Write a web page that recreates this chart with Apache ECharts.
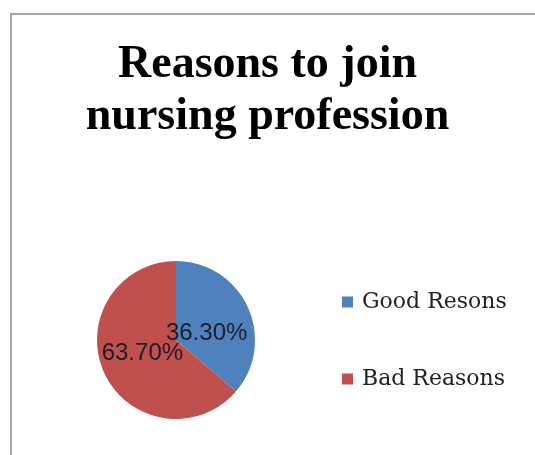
<!DOCTYPE html>
<html>
<head>
<meta charset="utf-8">
<script src="https://cdn.jsdelivr.net/npm/echarts@6/dist/echarts.min.js"></script>
<style>
  html, body { margin: 0; padding: 0; background: #fff; }
  #chart { width: 535px; height: 455px; }
</style>
</head>
<body>
<div id="chart"></div>
<script>
// data
var categories = ['Good Resons', 'Bad Reasons'];
var values = [36.3, 63.7];
var colors = ['#4f81bd', '#c0504d'];
// nudges so the labels sit where the original put them
var labelShift = [[-8, 11], [5, -4]];

var myChart = echarts.init(document.getElementById('chart'));

var pieData = categories.map(function (name, i) {
  return { name: name, value: values[i], itemStyle: { color: colors[i] } };
});

myChart.setOption({
  animation: false,
  title: {
    text: 'Reasons to join\nnursing profession',
    left: 'center',
    top: 34,
    padding: [5, 0, 5, 5],
    textStyle: {
      fontFamily: 'Liberation Serif',
      fontWeight: 'bold',
      fontSize: 46,
      lineHeight: 52,
      color: '#000'
    }
  },
  legend: {
    orient: 'vertical',
    left: 337,
    top: 286,
    itemWidth: 11,
    itemHeight: 11,
    itemGap: 55,
    icon: 'rect',
    data: categories,
    textStyle: {
      fontFamily: 'DejaVu Serif',
      fontSize: 22,
      color: '#222',
      padding: [0, 0, 0, 4]
    }
  },
  graphic: [{
    type: 'rect',
    shape: { x: 11, y: 14, width: 700, height: 700 },
    style: { fill: null, stroke: '#a6a6a6', lineWidth: 2 },
    silent: true
  }],
  series: [{
    type: 'pie',
    center: [176, 340],
    radius: 79,
    startAngle: 90,
    clockwise: true,
    data: pieData,
    itemStyle: { borderWidth: 0 },
    label: {
      show: true,
      position: 'inside',
      fontFamily: 'Liberation Sans',
      fontSize: 24,
      color: '#1c1c2a',
      formatter: function (p) { return p.value.toFixed(2) + '%'; }
    },
    labelLine: { show: false },
    labelLayout: function (p) {
      return { dx: labelShift[p.dataIndex][0], dy: labelShift[p.dataIndex][1] };
    }
  }]
});
</script>
</body>
</html>
